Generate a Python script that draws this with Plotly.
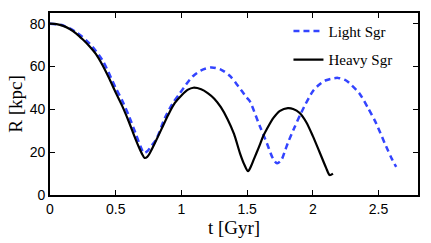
import plotly.graph_objects as go

# Heavy Sgr orbit (t in Gyr, R in kpc)
t_heavy = [0, 0.05, 0.1, 0.15, 0.2, 0.25, 0.3, 0.35, 0.4, 0.45, 0.5, 0.55, 0.6, 0.65,
           0.68, 0.7, 0.72, 0.74, 0.76, 0.8, 0.85, 0.9, 0.95, 1.0, 1.05, 1.09, 1.15,
           1.2, 1.25, 1.3, 1.35, 1.4, 1.445, 1.48, 1.507, 1.53, 1.55, 1.571, 1.6,
           1.621, 1.65, 1.7, 1.75, 1.81, 1.85, 1.9, 1.95, 2.0, 2.05, 2.1, 2.128, 2.153]
r_heavy = [80, 79.8, 79, 77.5, 75.4, 72.6, 69.5, 65.8, 60.6, 54.5, 47.8, 41.5, 34.2, 26.2,
           21.8, 19.2, 17.3, 17.8, 19.6, 24.5, 31, 37.5, 43, 46.5, 49.2, 50.1, 49.4,
           47.6, 45, 41, 35.5, 28.5, 19.6, 14, 11.1, 13.5, 16.5, 19.6, 24,
           27.3, 30.8, 36, 39.3, 40.6, 40.2, 38.3, 34, 27.5, 20.2, 12.8, 9.3, 10]

# Light Sgr orbit
t_light = [0, 0.1, 0.2, 0.3, 0.4, 0.5, 0.55, 0.6, 0.65, 0.69, 0.715, 0.74, 0.77, 0.81,
           0.874, 0.93, 0.988, 1.05, 1.09, 1.15, 1.229, 1.3, 1.368, 1.43, 1.494, 1.52,
           1.596, 1.65, 1.697, 1.728, 1.76, 1.79, 1.811, 1.86, 1.912, 2.0, 2.05, 2.1,
           2.19, 2.25, 2.3, 2.356, 2.42, 2.482, 2.558, 2.6, 2.634]
r_light = [80, 79.2, 76, 70.8, 62.8, 50, 44, 37, 29, 22.5, 19.6, 20.4, 22.8, 26.2,
           36, 42.5, 47.5, 52.8, 55.6, 58.2, 59.6, 58.6, 55.7, 51, 45.7, 43.8,
           32.2, 24.2, 17, 14.8, 16.3, 21, 24.5, 31.5, 38.5, 48.5, 51.6, 53.6,
           54.7, 53.6, 51, 47.3, 40.6, 33.4, 22.6, 17, 13.1]

x_ticks = [0, 0.5, 1, 1.5, 2, 2.5]
x_labels = ["0", "0.5", "1", "1.5", "2", "2.5"]
y_ticks = [0, 20, 40, 60, 80]
y_labels = ["0", "20", "40", "60", "80"]

fig = go.Figure()
fig.add_trace(go.Scatter(x=t_light, y=r_light, mode="lines", name="Light Sgr",
                         legendgroup="light",
                         line=dict(color="#3344ff", width=2.5, dash="6px,4px",
                                   shape="spline", smoothing=0.8)))
fig.add_trace(go.Scatter(x=t_heavy, y=r_heavy, mode="lines", name="Heavy Sgr",
                         legendgroup="heavy",
                         line=dict(color="black", width=2.2,
                                   shape="spline", smoothing=0.8)))

axis_common = dict(showline=True, linecolor="black", linewidth=1.6, mirror="ticks",
                   ticks="inside", ticklen=5, tickwidth=1.2, tickcolor="black",
                   showgrid=False, zeroline=False,
                   tickfont=dict(family="Liberation Sans, Arial", size=14, color="black"))

fig.update_layout(
    width=431, height=243,
    margin=dict(l=50, r=11, t=11, b=48),
    paper_bgcolor="white", plot_bgcolor="white",
    xaxis=dict(range=[0, 2.8], tickvals=x_ticks, ticktext=x_labels,
               title=dict(text="t [Gyr]", standoff=0,
                          font=dict(family="Liberation Serif, Times New Roman", size=19, color="black")),
               **axis_common),
    yaxis=dict(range=[0, 85], tickvals=y_ticks, ticktext=y_labels,
               title=dict(text="R [kpc]", standoff=2,
                          font=dict(family="Liberation Serif, Times New Roman", size=19, color="black")),
               **axis_common),
    legend=dict(x=0.648, y=0.99, xanchor="left", yanchor="top",
                bgcolor="rgba(0,0,0,0)", borderwidth=0,
                font=dict(family="Liberation Serif, Times New Roman", size=15, color="black"),
                tracegroupgap=6),
    showlegend=True,
)

fig.write_html("out.html", config={"displayModeBar": False},
               post_script="document.body.style.margin='0';")
